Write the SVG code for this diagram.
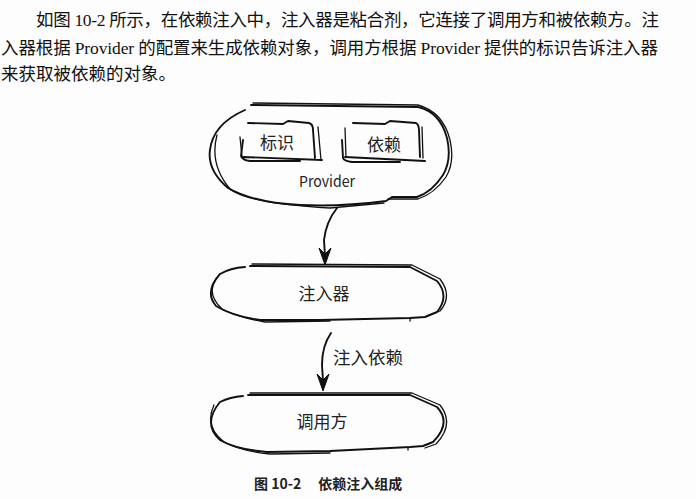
<svg xmlns="http://www.w3.org/2000/svg" width="696" height="499" viewBox="0 0 696 499">
<defs>
<style>
.body{font-family:"Liberation Serif","Noto Sans CJK SC",serif;font-size:17.5px;fill:#111}
.hand{font-family:"Noto Sans CJK SC","Noto Sans",sans-serif;font-weight:400;fill:#222}
.sk{fill:none;stroke:#111;stroke-width:1.9;stroke-linejoin:round;stroke-linecap:round}
.sk2{fill:none;stroke:#111;stroke-width:1.3;stroke-linejoin:round;stroke-linecap:round}
.cap{font-family:"Noto Sans CJK SC","Noto Sans",sans-serif;font-weight:600;font-size:14px;fill:#222}
</style>
</defs>
<rect width="696" height="499" fill="#fdfdfd"/>
<g id="paragraph">
<text class="body" x="36" y="26" textLength="623" lengthAdjust="spacing">如图 10-2 所示，在依赖注入中，注入器是粘合剂，它连接了调用方和被依赖方。注</text>
<text class="body" x="1" y="54" textLength="657" lengthAdjust="spacing">入器根据 Provider 的配置来生成依赖对象，调用方根据 Provider 提供的标识告诉注入器</text>
<text class="body" x="1" y="80">来获取被依赖的对象。</text>
</g>
<g id="node-provider">
<path class="sk" d="M251,105 L418,107 Q440,112 447,138 Q452,160 443,175 Q432,192 417,197 L392,197 L386,201 Q340,207 300,205 Q255,203 228,188 Q207,170 210,150 Q213,124 245,110"/>
<path class="sk2" d="M253,103 L418,105 Q443,112 450,140 Q455,162 446,177 Q434,194 418,199 L388,199 M217,135 Q209,165 231,190 Q252,204 330,208 L384,203"/>
<text class="hand" x="327" y="187" font-size="15" text-anchor="middle" textLength="56" lengthAdjust="spacingAndGlyphs" font-family="'DejaVu Sans',sans-serif">Provider</text>
</g>
<g id="node-biaoshi">
<path class="sk" d="M248,123 L283,124 L288,121 L309,123 Q313,124 313,130 L315,158 M243,157 L322,160 M243,140 L241,156 Q242,160 250,161 L300,161"/>
<path class="sk2" d="M318,127 L321,160 M240,137 L242,157"/>
<text class="hand" x="277" y="149" font-size="17" text-anchor="middle">标识</text>
</g>
<g id="node-yilai">
<path class="sk" d="M353,123 L385,124 L390,121 L416,123 Q419,125 419,130 L420,157 M345,157 L425,161 M342,140 L343,158 Q344,161 352,162 L400,162"/>
<path class="sk2" d="M422,127 L423,158 M345,128 L346,157"/>
<text class="hand" x="384" y="151" font-size="17" text-anchor="middle">依赖</text>
</g>
<g id="node-injector">
<path class="sk" d="M250,266 L410,267 L437,281 Q450,296 437,312 L425,317 L410,318 L320,320 L260,320 Q232,316 216,306 Q204,292 220,274 Q230,268 245,267"/>
<path class="sk2" d="M252,264 L412,265 L440,279 Q453,296 440,311 L427,316 M216,279 Q206,294 222,309 Q240,318 265,322 L330,321 M410,318 L410,321"/>
<text class="hand" x="324" y="300" font-size="17" text-anchor="middle">注入器</text>
</g>
<g id="node-caller">
<path class="sk" d="M248,395 L410,395 L437,407 Q452,423 433,442 L423,446 L410,447 L330,451 L267,452 Q235,449 220,440 Q202,424 220,402 Q230,397 243,396"/>
<path class="sk2" d="M250,393 L412,393 L440,405 Q455,424 436,444 L425,448 M214,405 Q204,426 224,442 Q240,451 270,454 L330,453 M408,447 L408,450"/>
<text class="hand" x="322" y="428" font-size="17" text-anchor="middle">调用方</text>
</g>
<g id="connectors">
<path class="sk" d="M337,208 Q326,222 324,240 L325,256"/>
<path d="M319,248 L325,265 L331,248 L325,254 Z" fill="#111" stroke="#111" stroke-width="1" stroke-linejoin="round"/>
<path class="sk" d="M331,333 Q322,346 322,365 L323,381"/>
<path d="M317,374 L323,391 L329,374 L323,380 Z" fill="#111" stroke="#111" stroke-width="1" stroke-linejoin="round"/>
<text class="hand" x="333" y="364" font-size="17.5">注入依赖</text>
</g>
<g id="caption">
<text class="cap" x="254" y="489">图 10-2　 依赖注入组成</text>
</g>
</svg>
